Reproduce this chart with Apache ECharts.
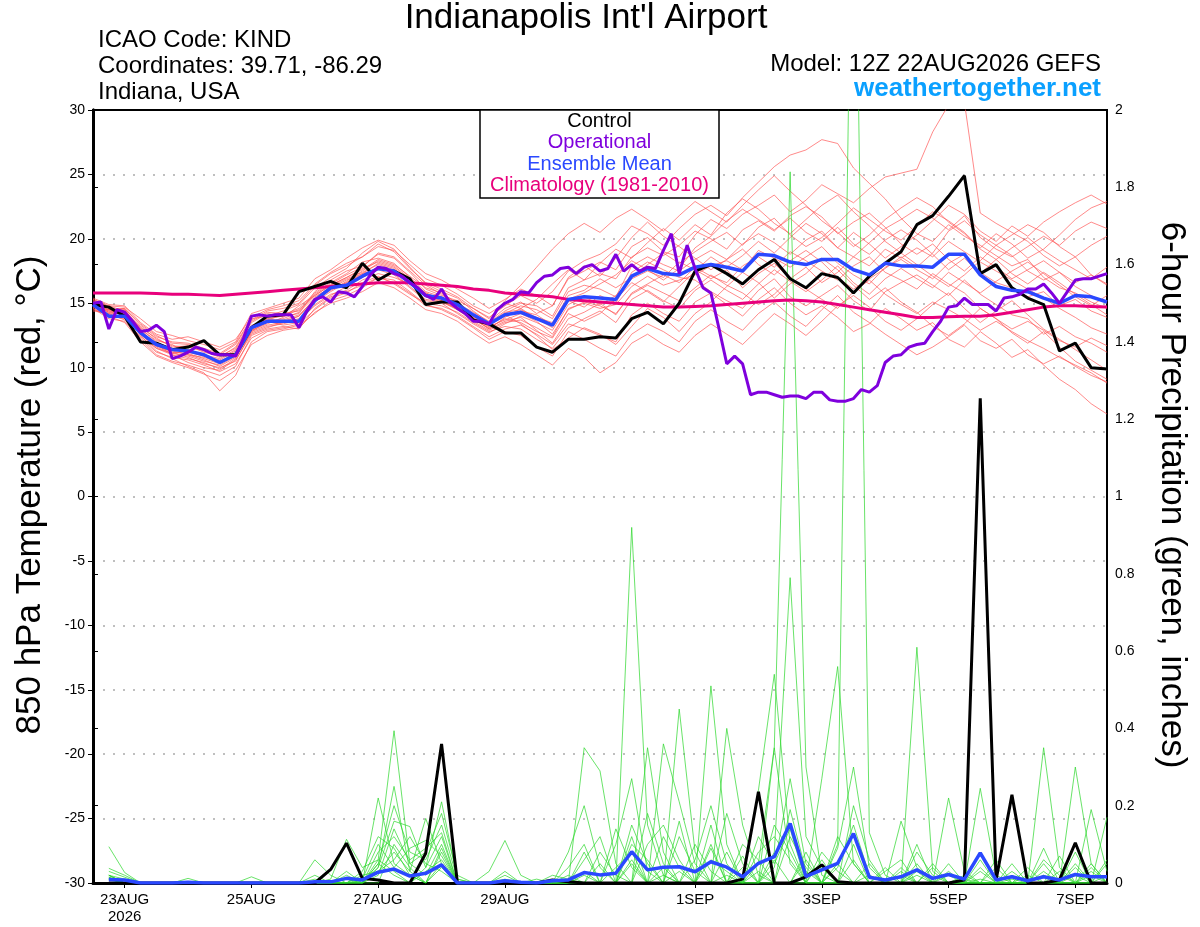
<!DOCTYPE html>
<html>
<head>
<meta charset="utf-8">
<script src="https://cdn.jsdelivr.net/npm/echarts@6/dist/echarts.min.js"></script>
<style>
html,body{margin:0;padding:0;background:#fff;}
#chart{width:1200px;height:927px;}
</style>
</head>
<body>
<div id="chart"></div>
<script>
// ---------- DATA ----------
// x positions: hours after 12Z 22AUG2026 (6-hourly, 65 steps); operational is 3-hourly
const tickHours = [12, 60, 108, 156, 228, 276, 324, 372];
const tickLabels = ['23AUG\n2026', '25AUG', '27AUG', '29AUG', '1SEP', '3SEP', '5SEP', '7SEP'];

const controlTemp = [14.9,14.7,14.0,12.0,11.9,11.4,11.6,12.1,11.0,11.0,13.1,14.0,14.1,
  15.9,16.3,16.7,16.2,18.1,16.8,17.5,16.9,14.9,15.1,15.1,13.7,13.4,
  12.7,12.7,11.6,11.2,12.2,12.2,12.4,12.3,13.8,14.3,13.4,15.0,17.5,
  18.0,17.3,16.5,17.6,18.4,16.9,16.2,17.3,17.0,15.8,17.1,18.1,19.0,
  21.1,21.8,23.3,24.9,17.3,18.0,16.2,15.4,14.9,11.3,11.9,10.0,9.9];

const meanTemp = [14.9,14.0,14.0,12.7,11.8,11.4,11.3,11.0,10.4,11.0,13.1,13.6,13.6,
  13.6,15.2,16.2,16.4,17.1,17.7,17.5,16.6,15.6,15.4,14.9,14.1,13.4,
  14.1,14.3,13.8,13.3,15.3,15.5,15.4,15.3,17.1,17.7,17.3,17.2,17.8,
  18.0,17.8,17.5,18.8,18.7,18.2,18.0,18.4,18.4,17.6,17.2,18.1,17.9,
  17.9,17.8,18.8,18.8,17.2,16.3,16.0,15.9,15.4,15.0,15.6,15.5,15.1];

const climoTemp = [15.8,15.8,15.8,15.8,15.75,15.7,15.7,15.65,15.6,15.7,15.8,15.9,16.0,
  16.1,16.2,16.3,16.4,16.5,16.6,16.6,16.6,16.5,16.4,16.3,16.1,16.0,
  15.8,15.7,15.6,15.5,15.3,15.2,15.1,15.0,14.9,14.8,14.7,14.7,14.75,
  14.8,14.9,15.0,15.1,15.2,15.25,15.2,15.1,14.9,14.7,14.5,14.3,14.1,
  13.9,13.9,13.95,14.0,14.0,14.1,14.3,14.5,14.7,14.8,14.8,14.75,14.7];

// operational, 3-hourly (129 values)
const operTemp = [15.0,15.1,13.0,14.5,14.3,13.6,12.8,12.9,13.3,12.8,10.7,10.9,11.2,11.6,11.4,11.1,
  11.0,11.0,10.9,12.3,14.0,14.1,14.0,14.1,14.1,14.1,13.1,14.4,15.3,15.5,15.1,15.9,
  15.8,15.5,16.3,17.2,17.8,17.7,17.3,17.1,16.6,16.2,15.6,15.3,16.1,15.1,14.6,14.2,
  13.6,13.6,13.4,14.5,15.0,15.3,15.9,15.8,16.6,17.1,17.2,17.7,17.8,17.3,17.8,18.0,
  17.5,17.7,18.8,17.5,18.0,17.5,17.8,17.7,19.1,20.4,17.3,19.5,17.7,16.2,15.8,13.1,
  10.3,10.9,10.3,7.9,8.1,8.1,7.9,7.7,7.8,7.8,7.6,8.1,8.1,7.5,7.4,7.4,
  7.6,8.3,8.1,8.6,10.4,10.9,11.0,11.6,11.8,11.9,12.8,13.6,14.7,14.8,15.4,14.9,
  14.9,14.9,14.4,15.4,15.5,15.7,16.1,16.1,16.5,15.8,15.0,15.9,16.8,16.9,16.9,17.1,
  17.3];

// ensemble members, 850 hPa temperature
const memberTemp = [
 [15.2,14.6,14.3,13.0,12.1,11.8,11.0,10.6,10.1,10.8,12.9,13.4,13.9,14.8,15.6,16.4,17.0,17.6,18.4,18.0,17.1,16.2,15.8,15.0,14.3,13.6,14.6,15.1,14.2,14.8,16.9,17.5,18.2,17.6,19.4,20.1,19.0,18.6,20.3,21.5,20.8,21.9,22.6,23.4,22.1,23.0,24.2,23.5,22.8,23.9,24.8,25.1,25.4,28.3,30.4,30.6,22.0,21.2,20.5,19.8,18.7,17.9,18.6,17.2,16.4],
 [14.6,13.8,13.6,12.2,11.0,10.5,10.2,9.8,9.4,10.1,12.5,13.0,13.2,13.0,14.6,15.5,15.9,16.4,17.0,16.6,15.8,14.8,14.6,14.0,13.2,12.4,13.0,13.3,12.6,11.8,13.4,13.0,12.5,12.0,14.1,15.0,14.2,13.6,15.1,15.8,14.9,14.0,15.3,16.2,15.0,14.1,14.8,13.9,12.8,13.4,14.6,13.8,12.9,13.5,12.2,11.6,12.8,11.9,10.8,11.4,10.2,9.1,8.3,7.2,6.4],
 [15.0,14.3,14.5,13.1,12.3,11.6,11.7,11.2,10.9,11.5,13.5,14.2,14.0,14.2,15.9,16.8,17.5,17.9,18.8,18.5,17.4,16.1,15.6,15.2,14.6,13.9,14.8,15.6,15.0,15.9,17.5,18.3,18.8,19.6,21.0,20.4,19.5,20.8,21.9,22.6,21.8,23.2,24.4,25.6,26.5,26.9,27.7,27.4,25.5,24.3,23.1,21.6,20.4,19.8,21.1,20.2,19.5,18.7,17.9,18.4,17.0,16.2,15.8,15.1,14.6],
 [14.4,14.2,13.7,12.4,11.5,11.0,10.4,10.0,9.8,10.6,12.6,13.1,13.5,13.8,15.1,15.9,16.6,17.2,17.8,17.3,16.3,15.3,15.1,14.5,13.6,12.9,13.5,13.7,13.1,12.4,14.6,15.0,14.6,14.9,16.3,17.1,16.4,16.8,17.2,17.9,18.3,17.6,19.1,18.5,17.8,18.6,19.4,18.1,17.2,16.5,17.8,18.4,17.6,16.9,18.1,18.8,17.4,16.6,16.2,15.5,15.9,14.8,15.3,14.4,13.9],
 [15.4,14.9,14.8,13.5,12.6,12.2,12.4,12.0,11.6,12.2,13.9,14.5,14.8,15.2,16.5,17.4,18.1,18.6,19.4,19.1,18.0,16.9,16.4,15.7,14.8,14.2,15.0,14.6,13.8,13.1,15.2,14.7,15.6,15.0,17.4,18.2,17.6,17.0,16.8,15.9,15.2,14.6,16.0,16.9,15.5,14.8,15.6,16.4,15.2,14.4,15.9,16.6,17.2,16.4,15.6,16.8,15.7,14.9,14.1,13.8,12.6,13.2,12.4,11.9,11.2],
 [14.8,14.0,13.9,12.8,11.8,11.2,10.8,10.3,10.0,10.5,12.8,13.6,13.3,13.5,14.9,15.7,16.0,16.8,17.3,17.0,16.5,15.6,15.4,14.7,13.8,13.2,14.2,14.8,14.5,13.8,15.9,16.4,16.1,15.5,17.9,18.6,18.0,17.5,18.4,19.1,18.4,19.6,20.4,19.7,18.8,19.9,20.6,19.3,18.6,19.7,20.8,21.5,22.3,21.6,20.7,21.8,20.1,19.2,18.6,19.4,20.2,19.5,20.6,21.3,20.8],
 [15.1,14.4,14.1,12.5,11.3,10.7,10.1,9.6,8.2,9.4,12.0,12.8,13.0,13.3,14.2,15.2,15.6,16.2,17.0,16.8,15.9,14.9,14.5,13.9,13.1,12.2,12.8,12.5,11.6,10.9,12.8,12.2,11.5,10.9,12.6,13.4,12.8,12.0,13.6,14.5,13.6,12.9,14.2,15.1,14.0,13.2,14.5,15.6,14.3,13.5,12.6,11.8,11.0,11.6,12.4,13.3,12.1,11.5,12.2,11.0,10.3,10.9,10.1,9.4,8.9],
 [14.7,14.5,14.6,13.3,12.4,12.0,11.9,11.5,11.1,11.9,13.8,14.0,14.4,14.9,16.2,17.0,17.7,18.9,19.8,19.2,17.8,16.5,15.9,15.4,14.4,13.5,14.4,15.0,14.8,14.0,16.2,16.8,17.3,16.9,18.6,19.3,18.7,19.5,20.6,20.0,19.2,20.7,21.4,20.6,21.8,22.5,21.7,20.4,21.3,22.0,20.9,19.6,18.8,19.6,18.4,17.5,18.6,17.8,16.9,17.6,18.3,17.4,16.6,17.2,16.5],
 [14.5,14.1,14.4,12.9,11.7,11.3,11.0,10.8,10.4,11.2,13.2,13.8,13.6,14.0,15.4,16.3,16.9,17.4,18.0,17.6,16.7,15.8,15.3,14.8,13.9,13.0,13.6,13.9,12.9,11.9,13.8,14.3,15.0,14.1,15.8,16.5,17.2,16.6,17.8,17.1,16.6,17.9,18.6,17.8,19.0,18.3,17.5,16.8,17.9,18.6,17.4,16.8,16.1,17.3,16.5,15.8,14.6,13.8,13.0,13.6,12.9,12.1,11.6,12.3,11.7],
 [15.3,14.7,14.0,12.7,11.9,11.5,11.4,11.0,10.7,11.4,13.3,13.7,14.1,14.6,15.8,16.6,17.3,18.2,18.5,18.1,17.0,15.9,15.5,14.9,14.1,13.4,14.3,14.5,13.9,13.5,15.6,16.0,16.9,16.2,17.0,18.0,18.9,18.1,19.0,19.8,20.5,19.5,20.9,21.6,20.3,19.4,20.1,21.2,22.4,21.5,20.6,19.9,21.0,22.1,21.4,20.5,19.3,20.4,19.6,18.5,19.2,20.3,21.5,22.4,22.9],
 [14.9,14.3,14.2,12.6,11.6,11.1,11.3,10.9,10.5,10.9,12.7,13.2,13.4,13.7,14.8,15.6,16.3,17.0,17.6,17.2,16.2,15.2,15.0,14.2,13.4,12.7,13.4,14.0,13.5,12.9,14.9,15.5,14.9,15.6,16.9,17.5,17.0,18.2,17.6,16.9,17.6,16.2,17.3,18.1,16.9,17.8,16.6,17.4,18.6,17.9,19.2,18.5,19.3,18.6,19.8,19.0,18.2,17.5,16.8,16.1,15.4,14.6,13.9,13.1,12.6],
 [15.0,14.8,14.7,13.8,12.8,12.5,12.1,11.8,11.4,12.0,14.2,14.6,15.0,15.4,16.9,17.6,18.5,19.3,19.9,19.5,18.3,17.3,16.8,16.1,15.4,14.6,15.3,16.1,15.6,14.8,17.0,17.9,17.1,18.5,20.1,21.3,20.2,19.4,18.5,17.6,18.4,19.2,18.0,17.2,18.3,19.1,18.2,17.0,16.1,16.9,17.7,18.6,17.8,18.9,20.6,21.4,20.3,19.5,18.7,17.5,16.8,17.4,16.3,15.6,15.0],
 [14.6,14.0,13.8,12.3,11.2,10.8,10.6,10.2,9.7,10.3,12.3,12.9,13.1,13.4,14.5,15.4,15.8,16.6,17.1,16.5,15.7,15.0,14.8,14.3,13.5,12.8,13.2,13.0,12.2,11.5,13.1,13.8,14.4,13.5,15.3,16.0,15.2,14.6,16.0,16.8,16.0,15.3,16.5,17.6,16.7,15.9,16.8,17.9,16.6,15.7,16.9,17.7,16.9,16.2,17.4,16.6,15.8,16.7,17.5,18.2,17.3,16.4,15.5,14.8,15.6],
 [15.2,14.6,14.2,13.2,12.2,11.7,11.6,11.3,10.8,11.6,13.6,14.3,14.2,14.4,15.7,16.5,17.2,17.8,18.9,18.6,17.5,16.4,15.7,15.0,14.0,13.3,14.0,14.4,14.1,13.3,15.3,15.8,16.5,17.2,18.3,17.6,16.8,17.7,19.3,20.2,21.4,22.3,21.5,20.7,21.6,20.5,19.8,20.9,19.6,18.8,19.9,20.7,19.9,18.8,17.6,18.5,17.3,18.4,19.3,20.1,19.1,18.3,17.6,16.9,17.8],
 [14.8,14.4,14.5,12.9,11.8,11.0,10.7,10.4,9.9,10.7,12.9,13.5,13.7,14.1,15.3,16.0,16.7,17.5,18.3,17.9,16.9,15.7,15.2,14.6,13.7,13.1,13.8,13.5,12.8,12.3,14.2,13.6,14.2,15.3,16.6,15.9,15.1,16.3,17.5,18.6,17.8,18.7,19.8,18.9,20.1,21.2,20.4,19.3,20.5,19.6,18.5,19.4,20.3,21.4,22.6,21.9,20.6,19.8,21.0,20.2,21.3,22.1,22.8,23.4,22.7],
 [15.1,14.2,14.3,12.8,11.7,11.2,11.1,10.7,10.3,11.0,13.0,13.6,13.8,14.3,15.5,16.2,16.8,17.3,18.1,17.7,16.6,15.5,15.1,14.6,13.9,13.2,13.7,14.2,13.6,12.6,14.5,15.1,14.8,14.2,15.7,16.4,15.8,15.2,16.2,17.2,16.4,15.8,14.9,15.7,16.9,16.1,15.3,14.6,15.9,16.8,15.7,14.9,14.2,15.1,14.5,13.8,12.9,13.6,12.8,12.1,11.5,10.8,10.2,9.6,8.8],
 [15.0,14.5,14.6,13.4,12.5,11.9,11.8,11.4,11.0,11.8,13.7,14.4,14.6,15.0,16.4,17.3,17.9,18.6,19.6,19.0,17.7,16.6,16.1,15.5,14.6,13.8,15.2,16.4,17.8,19.2,20.4,21.2,20.5,21.6,22.3,21.5,20.6,21.8,22.9,22.1,21.3,22.6,23.8,24.9,23.7,22.6,21.4,20.5,19.4,20.3,21.5,22.4,23.2,22.5,21.3,20.4,19.2,18.4,17.3,16.5,17.4,16.6,15.7,14.9,14.1],
 [14.7,14.0,13.5,12.0,10.9,10.4,10.0,9.5,9.0,9.8,11.8,12.5,12.9,13.1,14.3,15.0,15.4,15.9,16.6,16.2,15.4,14.5,14.2,13.6,12.7,11.9,12.4,11.8,11.0,10.2,11.5,10.8,9.6,10.4,11.9,12.6,11.8,11.2,12.5,13.4,12.6,11.8,13.0,14.2,13.4,12.5,13.6,14.8,15.6,14.7,13.6,12.9,13.8,14.9,15.8,14.6,13.5,14.4,15.2,14.1,13.0,12.2,11.4,10.6,9.8],
 [14.9,14.5,14.1,12.6,11.5,11.1,10.9,10.5,10.2,10.9,12.8,13.3,13.5,14.0,15.2,16.1,16.6,17.3,17.7,17.4,16.5,15.5,15.2,14.5,13.8,13.0,13.9,14.6,15.3,16.5,17.6,16.8,18.1,19.2,18.5,19.7,20.8,19.9,21.1,20.3,22.0,23.1,22.3,21.2,20.4,21.5,22.6,23.4,22.1,21.0,19.8,18.9,18.0,17.1,16.3,17.2,18.3,19.5,20.3,21.1,20.5,19.4,18.6,19.5,20.2],
 [15.3,14.8,14.4,13.0,12.0,11.4,11.2,10.9,10.6,11.3,13.1,13.8,14.0,14.5,15.6,16.4,17.0,17.7,18.2,17.8,16.8,15.8,15.3,14.7,14.0,13.3,14.1,13.4,12.5,11.4,12.3,13.1,12.6,11.8,13.2,14.6,13.9,12.8,14.2,15.1,16.3,17.4,16.6,15.4,16.5,17.3,18.5,17.6,16.4,15.3,16.2,15.1,14.3,13.2,12.5,13.4,14.6,13.8,12.7,11.9,12.8,11.6,10.5,9.8,9.1]
];

// 6-hour precipitation (inches), valid at hours 6..384 (64 values)
const controlPrecip = [0,0,0,0,0,0,0,0, 0,0,0,0,0,0,0.035,0.103, 0.012,0.008,0,0,0.077,0.36,0,0,
  0,0,0,0,0.008,0.003,0,0, 0,0,0,0,0,0,0,0, 0.01,0.236,0,0,0.016,0.047,0.003,0,
  0,0,0,0,0,0,0.008,1.254, 0.008,0.228,0,0,0.008,0.104,0,0];

const meanPrecip = [0.009,0.008,0,0,0,0.002,0,0, 0,0,0,0,0,0.003,0.003,0.012, 0.008,0.028,0.036,0.018,0.025,0.047,0,0,
  0,0.006,0.002,0,0.006,0.008,0.027,0.021, 0.025,0.081,0.034,0.041,0.042,0.029,0.055,0.041, 0.016,0.051,0.068,0.154,0.017,0.034,0.051,0.128,
  0.015,0.008,0.016,0.034,0.012,0.022,0.01,0.078, 0.008,0.016,0.006,0.016,0.008,0.022,0.016,0.016];

const memberPrecip = [
 [.02,.01,0,0,0,0,0,0, 0,0,0,0,0,.01,0,.02, 0,.05,.02,0,.03,.06,0,0, 0,.01,0,0,0,0,.02,0, 0,.05,0,0,.03,0,0,.02, 0,.05,.35,1.84,.3,.02,0,0, 0,0,0,.03,0,0,0,.01, 0,0,0,.02,0,0,.03,0],
 [.094,.027,0,0,0,0,0,0, 0,0,0,0,0,0,0,.01, 0,.22,.05,.02,0,.04,0,0, 0,0,0,0,0,0,.35,.29, .05,0,0,.04,0,0,.1,0, 0,0,.06,0,0,0,.1,2.9, .13,.02,0,0,0,.05,0,0, 0,0,0,.35,.04,0,0,.17],
 [.038,.02,0,0,0,.012,0,0, 0,0,0,0,0,0,.01,.113, .04,.06,.394,.05,.02,.1,0,0, .03,.11,.02,0,0,0,0,0, 0,.92,.15,.02,0,0,0,0, .04,0,.08,.79,.12,.04,0,0, 0,0,0,.61,.03,0,0,0, 0,.05,0,0,0,.3,.05,0],
 [.015,0,0,0,0,0,0,0, 0,0,0,0,0,.06,.02,0, 0,.04,.16,.146,.04,.21,.01,0, 0,0,0,0,0,.08,.2,.04, 0,0,.35,.08,0,0,.51,.1, 0,.03,0,0,.06,0,0,0, .02,0,.16,.04,0,0,0,.245, .02,0,0,0,0,0,.19,.03],
 [.01,0,0,0,0,0,0,0, 0,.016,0,0,0,0,0,0, .02,.03,.08,.03,.167,.05,0,0, 0,0,0,0,.02,.01,0,0, .1,.27,.03,0,.45,.08,0,.4, .15,.02,0,.19,.03,0,.05,0, 0,.04,0,0,0,.22,.03,0, 0,0,.02,0,.07,0,0,.02],
 [.02,0,0,0,0,0,0,0, 0,0,0,0,0,0,0,.03, 0,.08,.12,.06,.09,.13,0,0, 0,.03,0,0,0,.02,0,0, 0,0,0,.36,.21,.05,0,0, 0,.24,.54,.1,0,.06,0,.1, 0,0,0,.08,.02,0,0,0, .04,0,0,.09,0,.05,0,0],
 [.012,0,0,0,0,0,0,0, 0,0,0,0,0,.02,0,0, .01,.1,.04,.09,.11,.07,0,0, 0,0,0,0,0,0,.06,.12, 0,.15,.05,0,0,0,.06,.03, 0,0,.35,.05,0,0,.09,.3, .04,0,.03,0,0,0,.02,0, 0,.03,0,.05,0,.02,0,0],
 [.03,.015,0,0,0,0,0,0, 0,0,0,0,0,0,0,0, 0,.05,.2,.08,.06,.15,.01,0, 0,0,0,0,0,0,0,0, .04,.08,0,.12,.04,0,.15,0, .07,0,0,.12,.04,0,0,.2, .06,0,0,.05,0,0,0,.06, 0,0,.04,0,0,0,.02,0],
 [.01,0,0,0,0,0,0,0, 0,0,0,0,0,0,0,0, .03,.12,.09,.02,0,.08,0,0, 0,.02,0,0,0,0,0,.05, 0,0,.18,.05,0,.1,.03,0, 0,.08,.12,.06,0,.27,.56,.05, 0,.03,.06,0,.04,0,0,0, .06,0,0,0,.03,0,0,.05],
 [.015,0,0,0,0,0,0,0, 0,0,0,0,0,0,0,0, 0,.03,.06,.12,.05,.03,0,0, 0,0,0,0,0,.04,.1,0, .14,.04,0,0,.12,.03,0,.18, .05,0,0,0,.08,0,.04,.15, .02,0,0,0,0,.03,0,0, 0,0,0,.02,0,.08,0,0],
 [.02,0,0,0,0,0,0,0, 0,0,0,0,0,0,0,.01, 0,.02,.14,.05,.08,.18,.02,0, 0,0,0,0,0,0,.03,0, 0,.06,0,.02,0,.06,.2,.05, 0,0,.04,.27,.05,0,0,0, .05,0,0,.02,0,0,0,.04, 0,.01,0,0,0,0,.04,0],
 [.008,0,0,0,0,0,0,0, 0,0,0,0,0,0,0,0, 0,.06,.03,0,.04,.12,0,0, 0,0,0,0,0,0,0,.08, .02,0,.1,.15,.06,0,0,0, .1,.06,0,0,0,.08,.03,0, 0,0,.04,0,.05,0,.01,0, 0,0,0,.06,.02,0,0,.06],
 [.01,0,0,0,0,0,0,0, 0,0,0,0,0,0,0,0, 0,0,.1,.04,0,.09,0,0, 0,0,0,.01,0,0,.08,0, 0,.12,0,0,.16,0,0,.08, 0,0,.15,.08,0,0,0,.06, 0,0,0,.1,0,.02,0,0, 0,.02,0,0,0,.04,0,0],
 [.02,0,0,0,0,0,0,0, 0,0,0,0,0,0,0,0, 0,.04,.25,.03,0,.05,0,0, 0,0,0,0,0,0,0,0, 0,.1,.06,0,0,0,.09,0, 0,.12,.05,.14,0,0,.12,.05, 0,0,.02,0,0,0,0,.03, 0,0,0,.03,0,0,.05,0]
];

// ---------- CHART ----------
const FONT = '"Liberation Sans", Arial, Helvetica, sans-serif';
const chart = echarts.init(document.getElementById('chart'), null, {renderer: 'canvas'});

const six = arr => arr.map((v, i) => [i * 6, v]);
const sixP = arr => arr.map((v, k) => [(k + 1) * 6, v]);
const three = arr => arr.map((v, j) => [j * 3, v]);

const series = [];
memberTemp.forEach((m, n) => series.push({
  name: 'member' + n, type: 'line', yAxisIndex: 0, data: six(m), showSymbol: false, symbol: 'none',
  lineStyle: {color: '#ff5252', width: 0.8, opacity: 0.85}, silent: true, z: 1
}));
memberPrecip.forEach((m, n) => series.push({
  name: 'pmember' + n, type: 'line', yAxisIndex: 1, data: sixP(m), showSymbol: false, symbol: 'none',
  lineStyle: {color: '#2ed82e', width: 0.8, opacity: 0.9}, silent: true, z: 2
}));
series.push({name: 'Climatology (1981-2010)', type: 'line', yAxisIndex: 0, data: six(climoTemp), symbol: 'none',
  lineStyle: {color: '#e8007c', width: 3}, z: 3});
series.push({name: 'Control', type: 'line', yAxisIndex: 0, data: six(controlTemp), symbol: 'none',
  lineStyle: {color: '#000000', width: 3}, z: 4});
series.push({name: 'Control P', type: 'line', yAxisIndex: 1, data: sixP(controlPrecip), symbol: 'none',
  lineStyle: {color: '#000000', width: 3}, z: 4});
series.push({name: 'Ensemble Mean', type: 'line', yAxisIndex: 0, data: six(meanTemp), symbol: 'none',
  lineStyle: {color: '#2a48ff', width: 3.5}, z: 5});
series.push({name: 'Ensemble Mean P', type: 'line', yAxisIndex: 1, data: sixP(meanPrecip), symbol: 'none',
  lineStyle: {color: '#2a48ff', width: 3.5}, z: 5});
series.push({name: 'Operational', type: 'line', yAxisIndex: 0, data: three(operTemp), symbol: 'none',
  lineStyle: {color: '#7f00dd', width: 3}, z: 6});

const option = {
  animation: false,
  backgroundColor: '#ffffff',
  textStyle: {fontFamily: FONT},
  grid: {left: 93, right: 93, top: 110, bottom: 44, show: true, borderColor: '#000', borderWidth: 2, backgroundColor: 'transparent'},
  xAxis: [{
    type: 'value', min: 0, max: 384,
    axisLine: {show: true, onZero: false, lineStyle: {color: '#000', width: 3}},
    axisTick: {show: true, customValues: tickHours, length: 5, lineStyle: {color: '#000', width: 1}},
    axisLabel: {show: true, customValues: tickHours, color: '#000', fontSize: 15, fontFamily: FONT, margin: 8, lineHeight: 17,
      formatter: v => { const k = tickHours.indexOf(v); return k >= 0 ? tickLabels[k] : ''; }},
    splitLine: {show: false}
  }, {
    type: 'value', min: 0, max: 384, position: 'top',
    axisLine: {show: true, onZero: false, lineStyle: {color: '#000', width: 2}},
    axisTick: {show: false}, axisLabel: {show: false}, splitLine: {show: false}
  }],
  yAxis: [
    {type: 'value', min: -30, max: 30, interval: 5, position: 'left',
     axisLine: {show: true, lineStyle: {color: '#000', width: 3}},
     axisTick: {show: true, length: 5, lineStyle: {color: '#000'}},
     axisLabel: {color: '#000', fontSize: 14, fontFamily: FONT, margin: 8},
     splitLine: {show: true, lineStyle: {color: '#aaaaaa', type: [2, 8], width: 1.5}}},
    {type: 'value', min: 0, max: 2, interval: 0.2, position: 'right',
     axisLine: {show: true, lineStyle: {color: '#000', width: 3}},
     axisTick: {show: true, length: 5, lineStyle: {color: '#000'}},
     axisLabel: {color: '#000', fontSize: 14, fontFamily: FONT, margin: 8},
     splitLine: {show: false}}
  ],
  graphic: [
    {type: 'text', x: 586, y: 18, style: {text: "Indianapolis Int'l Airport", fontSize: 35, fontFamily: FONT, fill: '#000', textAlign: 'center', textVerticalAlign: 'middle'}},
    {type: 'text', x: 98, y: 40, style: {text: 'ICAO Code: KIND', fontSize: 24, fontFamily: FONT, fill: '#000', textVerticalAlign: 'middle'}},
    {type: 'text', x: 98, y: 66, style: {text: 'Coordinates: 39.71, -86.29', fontSize: 24, fontFamily: FONT, fill: '#000', textVerticalAlign: 'middle'}},
    {type: 'text', x: 98, y: 92, style: {text: 'Indiana, USA', fontSize: 24, fontFamily: FONT, fill: '#000', textVerticalAlign: 'middle'}},
    {type: 'text', x: 1101, y: 64, style: {text: 'Model: 12Z 22AUG2026 GEFS', fontSize: 24, fontFamily: FONT, fill: '#000', textAlign: 'right', textVerticalAlign: 'middle'}},
    {type: 'text', x: 1101, y: 89, style: {text: 'weathertogether.net', fontSize: 26, fontWeight: 'bold', fontFamily: FONT, fill: '#0aa0ff', textAlign: 'right', textVerticalAlign: 'middle'}},
    {type: 'text', x: 30, y: 495, rotation: Math.PI / 2, style: {text: '850 hPa Temperature (red, °C)', fontSize: 35, fontFamily: FONT, fill: '#000', textAlign: 'center', textVerticalAlign: 'middle'}},
    {type: 'text', x: 1172, y: 495, rotation: -Math.PI / 2, style: {text: '6-hour Precipitation (green, inches)', fontSize: 35, fontFamily: FONT, fill: '#000', textAlign: 'center', textVerticalAlign: 'middle'}},
    {type: 'group', z: 100, children: [
      {type: 'rect', shape: {x: 480, y: 110, width: 239, height: 88}, style: {fill: '#fff', stroke: '#000', lineWidth: 1.5}, z: 100},
      {type: 'text', x: 599.5, y: 121, z: 101, style: {text: 'Control', fontSize: 20, fontFamily: FONT, fill: '#000', textAlign: 'center', textVerticalAlign: 'middle'}},
      {type: 'text', x: 599.5, y: 142, z: 101, style: {text: 'Operational', fontSize: 20, fontFamily: FONT, fill: '#7f00dd', textAlign: 'center', textVerticalAlign: 'middle'}},
      {type: 'text', x: 599.5, y: 164, z: 101, style: {text: 'Ensemble Mean', fontSize: 20, fontFamily: FONT, fill: '#2a48ff', textAlign: 'center', textVerticalAlign: 'middle'}},
      {type: 'text', x: 599.5, y: 185, z: 101, style: {text: 'Climatology (1981-2010)', fontSize: 20, fontFamily: FONT, fill: '#e8007c', textAlign: 'center', textVerticalAlign: 'middle'}}
    ]}
  ],
  series: series
};
chart.setOption(option);
</script>
</body>
</html>
